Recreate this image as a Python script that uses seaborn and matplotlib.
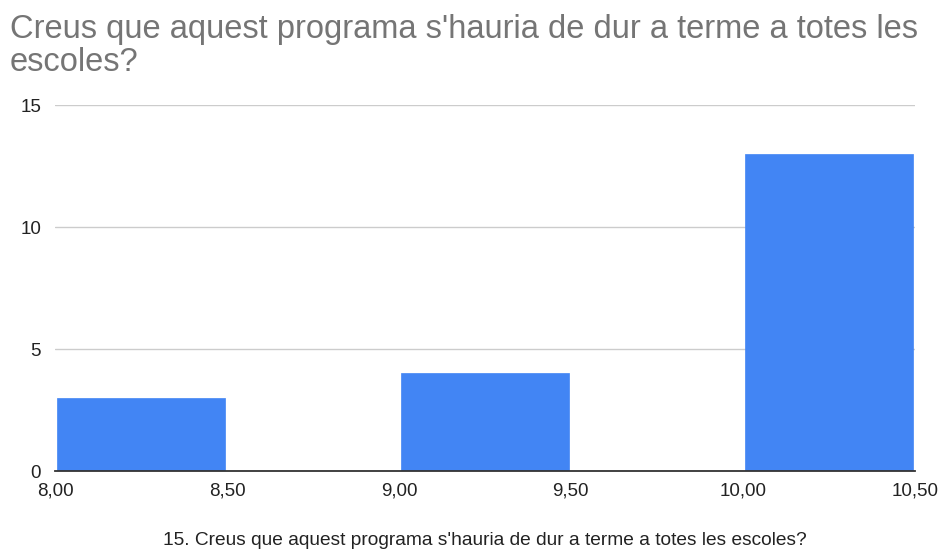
import matplotlib
matplotlib.use('Agg')
from matplotlib import pyplot as plt
import seaborn as sns

# bin centres and counts (bins of width 0.5)
bin_centres = [8.25, 9.25, 10.25]
counts = [3, 4, 13]
x_ticks = [8.0, 8.5, 9.0, 9.5, 10.0, 10.5]
x_tick_labels = ['8,00', '8,50', '9,00', '9,50', '10,00', '10,50']
y_ticks = [0, 5, 10, 15]

title = "Creus que aquest programa s'hauria de dur a terme a totes les\nescoles?"
xlabel = "15. Creus que aquest programa s'hauria de dur a terme a totes les escoles?"

sns.set_style('white')
plt.rcParams['font.family'] = ['Liberation Sans', 'DejaVu Sans']

fig = plt.figure(figsize=(9.42, 5.5), dpi=100)
ax = fig.add_axes([0.0584, 0.1436, 0.9126, 0.6654])

sns.histplot(x=bin_centres, weights=counts, binwidth=0.5, binrange=(8, 10.5),
             color='#4285F4', alpha=1, edgecolor='#4285F4', linewidth=0.5,
             shrink=0.975, ax=ax, zorder=3)

ax.set_xlim(8, 10.5)
ax.set_ylim(0, 15)
ax.set_yticks(y_ticks)
ax.set_xticks(x_ticks)
ax.set_xticklabels(x_tick_labels)
ax.tick_params(axis='both', length=0, labelsize=13.5, colors='#222222')
ax.tick_params(axis='y', pad=10)
ax.tick_params(axis='x', pad=8)
ax.grid(axis='y', color='#cccccc', linewidth=1, zorder=0)
for s in ['top', 'right', 'left']:
    ax.spines[s].set_visible(False)
ax.spines['bottom'].set_color('#333333')
ax.spines['bottom'].set_linewidth(1.3)
ax.spines['bottom'].set_zorder(4)
ax.set_ylabel('')
ax.set_xlabel(xlabel, fontsize=13.8, color='#222222', labelpad=24)

fig.text(10 / 942, 1 - 14 / 550, title, ha='left', va='top', fontsize=23.5,
         color='#757575', linespacing=1.08)

plt.savefig('out.png', dpi=100)
